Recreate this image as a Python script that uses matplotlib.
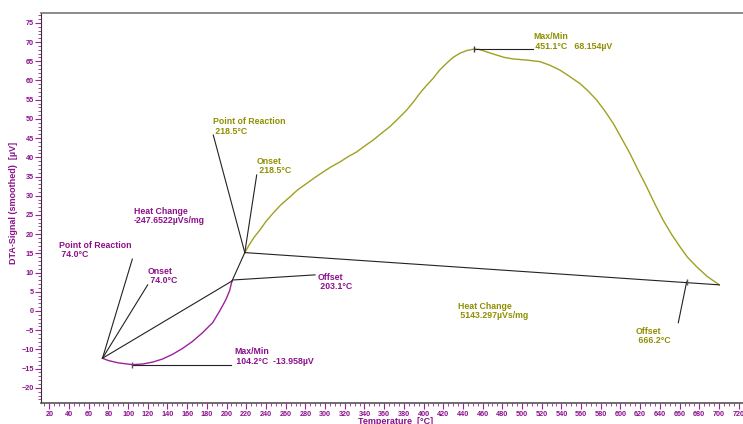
import matplotlib
matplotlib.use('Agg')
from matplotlib import pyplot as plt
from matplotlib.ticker import MultipleLocator
import numpy as np

# peak 1 (endothermic, purple)
temp_1 = [74.0, 80.0, 90.0, 104.2, 115.0, 125.0, 135.0, 145.0, 155.0, 165.0,
          175.0, 186.0, 193.0, 199.0, 203.0, 205.5]
dta_1 = [-12.3, -12.9, -13.5, -13.958, -13.8, -13.3, -12.5, -11.3, -9.8, -8.0,
         -5.8, -3.0, 0.0, 2.8, 5.2, 7.8]

# peak 2 (olive)
temp_2 = [218.5, 223.0, 228.0, 233.9, 240.0, 247.4, 255.0, 264.4, 272.0, 281.4,
          290.0, 298.2, 306.0, 315.2, 323.0, 332.1, 340.0, 349.0, 357.0, 365.9,
          374.0, 382.9, 390.0, 396.4, 403.0, 409.9, 416.0, 423.5, 430.0, 437.0,
          444.0, 451.1, 456.0, 460.0, 467.0, 474.3, 482.0, 491.1, 505.0, 518.2,
          528.0, 538.5, 548.0, 558.8, 567.0, 575.8, 584.0, 592.7, 601.0, 609.6,
          618.0, 626.6, 635.0, 643.4, 652.0, 660.4, 668.0, 677.4, 688.0, 700.3]
dta_2 = [15.2, 17.2, 19.2, 21.1, 23.3, 25.5, 27.6, 29.7, 31.5, 33.2,
         34.8, 36.2, 37.5, 38.8, 40.1, 41.4, 42.9, 44.5, 46.2, 48.0,
         50.0, 52.3, 54.5, 56.7, 58.7, 60.6, 62.6, 64.5, 66.0, 67.1,
         67.8, 68.154, 68.1, 67.8, 67.2, 66.6, 66.0, 65.6, 65.3, 64.9,
         64.0, 62.7, 61.1, 59.2, 57.3, 54.9, 52.1, 48.8, 45.0, 41.0,
         36.6, 32.3, 27.8, 23.6, 19.9, 16.7, 14.0, 11.5, 9.0, 6.8]

purple = '#a020a0'
purple_txt = '#8b108b'
olive = '#a0a020'
olive_txt = '#8f8f00'
lead = '#222222'

fig = plt.figure(figsize=(7.43, 4.24), dpi=100)
ax = fig.add_axes([41 / 743, 1 - 403 / 424, 702 / 743, 390 / 424])

# curves
ax.plot(temp_1, dta_1, color=purple, lw=1.0)
ax.plot(temp_2, dta_2, color=olive, lw=1.0)

# baselines
ax.plot([temp_1[0], temp_1[-1]], [dta_1[0], dta_1[-1]], color=lead, lw=0.8)
ax.plot([temp_1[-1], temp_2[0]], [dta_1[-1], dta_2[0]], color=lead, lw=0.8)
ax.plot([temp_2[0], temp_2[-1]], [dta_2[0], dta_2[-1]], color=lead, lw=0.8)

# leader lines
leaders = [
    ((74.0, -12.3), (104.3, 13.5)),     # point of reaction 1
    ((74.0, -12.3), (119.9, 6.8)),      # onset 1
    ((104.2, -13.958), (204.2, -13.958)),  # max/min 1
    ((206.5, 8.07), (289.8, 9.4)),      # offset 1
    ((218.5, 15.2), (186.5, 45.8)),     # point of reaction 2
    ((218.5, 15.2), (230.6, 35.4)),     # onset 2
    ((451.1, 68.154), (510.8, 68.154)),  # max/min 2
    ((667.2, 7.6), (658.7, -3.05)),     # offset 2
]
for (x0, y0), (x1, y1) in leaders:
    ax.plot([x0, x1], [y0, y1], color=lead, lw=0.8)

# small markers at extrema / offset
ax.plot([104.2], [-13.958], marker='|', ms=4, color='#555555')
ax.plot([451.1], [68.154], marker='|', ms=4, color='#333366')
ax.plot([667.2], [7.6], marker='|', ms=4, color='#555555')

labels_1 = [
    (30.2, 18.3, 'Point of Reaction\n 74.0°C'),
    (119.9, 11.5, 'Onset\n 74.0°C'),
    (106.0, 27.1, 'Heat Change\n-247.6522µVs/mg'),
    (207.5, -9.45, 'Max/Min\n 104.2°C  -13.958µV'),
    (292.8, 9.9, 'Offset\n 203.1°C'),
]
labels_2 = [
    (186.5, 50.4, 'Point of Reaction\n 218.5°C'),
    (230.6, 40.2, 'Onset\n 218.5°C'),
    (511.5, 72.5, 'Max/Min\n 451.1°C   68.154µV'),
    (435.3, 2.3, 'Heat Change\n 5143.297µVs/mg'),
    (615.7, -4.1, 'Offset\n 666.2°C'),
]
for x, y, s in labels_1:
    ax.text(x, y, s, color=purple_txt, fontsize=6.3, fontweight='bold',
            family='Liberation Sans', va='top', ha='left', linespacing=1.05)
for x, y, s in labels_2:
    ax.text(x, y, s, color=olive_txt, fontsize=6.3, fontweight='bold',
            family='Liberation Sans', va='top', ha='left', linespacing=1.05)

ax.set_xlim(11.57, 724.4)
ax.set_ylim(-23.95, 77.56)

ax.xaxis.set_minor_locator(MultipleLocator(5))
ax.yaxis.set_minor_locator(MultipleLocator(1))
ax.set_xticks(np.arange(20, 721, 20))
ax.set_yticks(np.arange(-20, 76, 5))

ax.tick_params(axis='both', which='major', direction='out', length=4, width=0.8,
               color=purple, labelcolor=purple_txt, labelsize=5.2)
ax.tick_params(axis='both', which='minor', direction='out', length=2, width=0.6,
               color=purple)
for lab in ax.get_xticklabels() + ax.get_yticklabels():
    lab.set_fontweight('bold')
    lab.set_family('Liberation Sans')
ax.tick_params(axis='x', pad=1.5)
ax.tick_params(axis='y', pad=1)

ax.spines['right'].set_visible(False)
ax.spines['top'].set_color('#777777')
ax.spines['top'].set_linewidth(1.2)
ax.spines['left'].set_color('#333333')
ax.spines['bottom'].set_color('#555555')
ax.spines['bottom'].set_linewidth(1.2)

fig.text(14 / 743, 1 - 203 / 424, 'DTA-Signal (smoothed)  [µV]', rotation=90,
         color=purple_txt, fontsize=6.5, fontweight='bold', family='Liberation Sans',
         ha='center', va='center')
fig.text(396 / 743, 1 - 417.5 / 424, 'Temperature  [°C]', color=purple_txt,
         fontsize=6.5, fontweight='bold', family='Liberation Sans',
         ha='center', va='top')

plt.savefig('out.png', dpi=100)
